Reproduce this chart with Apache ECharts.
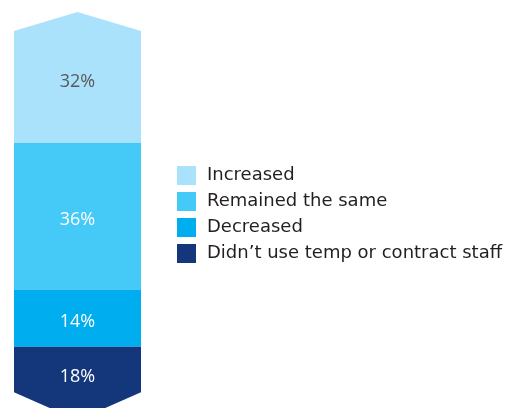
<!DOCTYPE html>
<html>
<head>
<meta charset="utf-8">
<script src="https://cdn.jsdelivr.net/npm/echarts@6/dist/echarts.min.js"></script>
<style>
  html, body { margin: 0; padding: 0; background: #ffffff; }
  #chart { width: 510px; height: 408px; }
</style>
</head>
<body>
<div id="chart"></div>
<script>
// Share of respondents by change in temp / contract staff use (top to bottom)
const categories = ['Increased', 'Remained the same', 'Decreased', 'Didn\u2019t use temp or contract staff'];
const shares = [32, 36, 14, 18];
const segmentColors = ['#aae1fb', '#45c9f6', '#00aeef', '#14377b'];
const labelColors = ['#58595b', '#ffffff', '#ffffff', '#ffffff'];

const LABEL_FONT = '"Open Sans", "Noto Sans", sans-serif';
const LEGEND_FONT = '"DejaVu Sans", sans-serif';
const TOP_POINT = 19;    // height of the upward chevron
const BOTTOM_POINT = 28; // height of the downward chevron

// Stack segments from the top (100) downward
const ranges = [];
let upper = 100;
shares.forEach(function (s) {
  ranges.push([upper - s, upper]);
  upper -= s;
});

const chart = echarts.init(document.getElementById('chart'), null, { renderer: 'canvas' });

const series = categories.map(function (name, i) {
  const isFirst = i === 0;
  const isLast = i === categories.length - 1;
  return {
    type: 'custom',
    name: name,
    coordinateSystem: 'cartesian2d',
    clip: false,
    itemStyle: { color: segmentColors[i] },
    data: [ranges[i]],
    renderItem: function (params, api) {
      const lo = api.value(0);
      const hi = api.value(1);
      const pTop = api.coord([0, hi]);
      const pBot = api.coord([1, lo]);
      const x0 = pTop[0], x1 = pBot[0], yT = pTop[1], yB = pBot[1];
      const xm = (x0 + x1) / 2;
      let pts;
      let labelY;
      if (isFirst) {
        pts = [[x0, yT + TOP_POINT], [xm, yT], [x1, yT + TOP_POINT], [x1, yB], [x0, yB]];
        labelY = (yT + TOP_POINT / 2 + yB) / 2;
      } else if (isLast) {
        pts = [[x0, yT], [x1, yT], [x1, yB - BOTTOM_POINT], [xm, yB], [x0, yB - BOTTOM_POINT]];
        labelY = (yT + yB - BOTTOM_POINT / 2) / 2;
      } else {
        pts = [[x0, yT], [x1, yT], [x1, yB], [x0, yB]];
        labelY = (yT + yB) / 2 + 4;
      }
      return {
        type: 'group',
        children: [
          {
            type: 'polygon',
            shape: { points: pts },
            style: { fill: segmentColors[i] }
          },
          {
            type: 'text',
            x: xm,
            y: labelY,
            style: {
              text: shares[i] + '%',
              fill: labelColors[i],
              font: '18px ' + LABEL_FONT,
              align: 'center',
              verticalAlign: 'middle'
            }
          }
        ]
      };
    }
  };
});

chart.setOption({
  animation: false,
  backgroundColor: '#ffffff',
  // y axis spans 3..100 over the grid so that 0 falls just below the bottom edge
  grid: { left: 14, width: 127, top: 12, bottom: 0 },
  xAxis: { type: 'value', min: 0, max: 1, show: false },
  yAxis: { type: 'value', min: 3, max: 100, show: false },
  legend: {
    orient: 'vertical',
    left: 177,
    top: 166,
    padding: 0,
    itemWidth: 19,
    itemHeight: 19,
    itemGap: 7,
    icon: 'rect',
    selectedMode: false,
    data: categories,
    textStyle: {
      fontFamily: LEGEND_FONT,
      fontSize: 18,
      color: '#231f20',
      padding: [0, 0, 0, 6]
    }
  },
  series: series
});
</script>
</body>
</html>
